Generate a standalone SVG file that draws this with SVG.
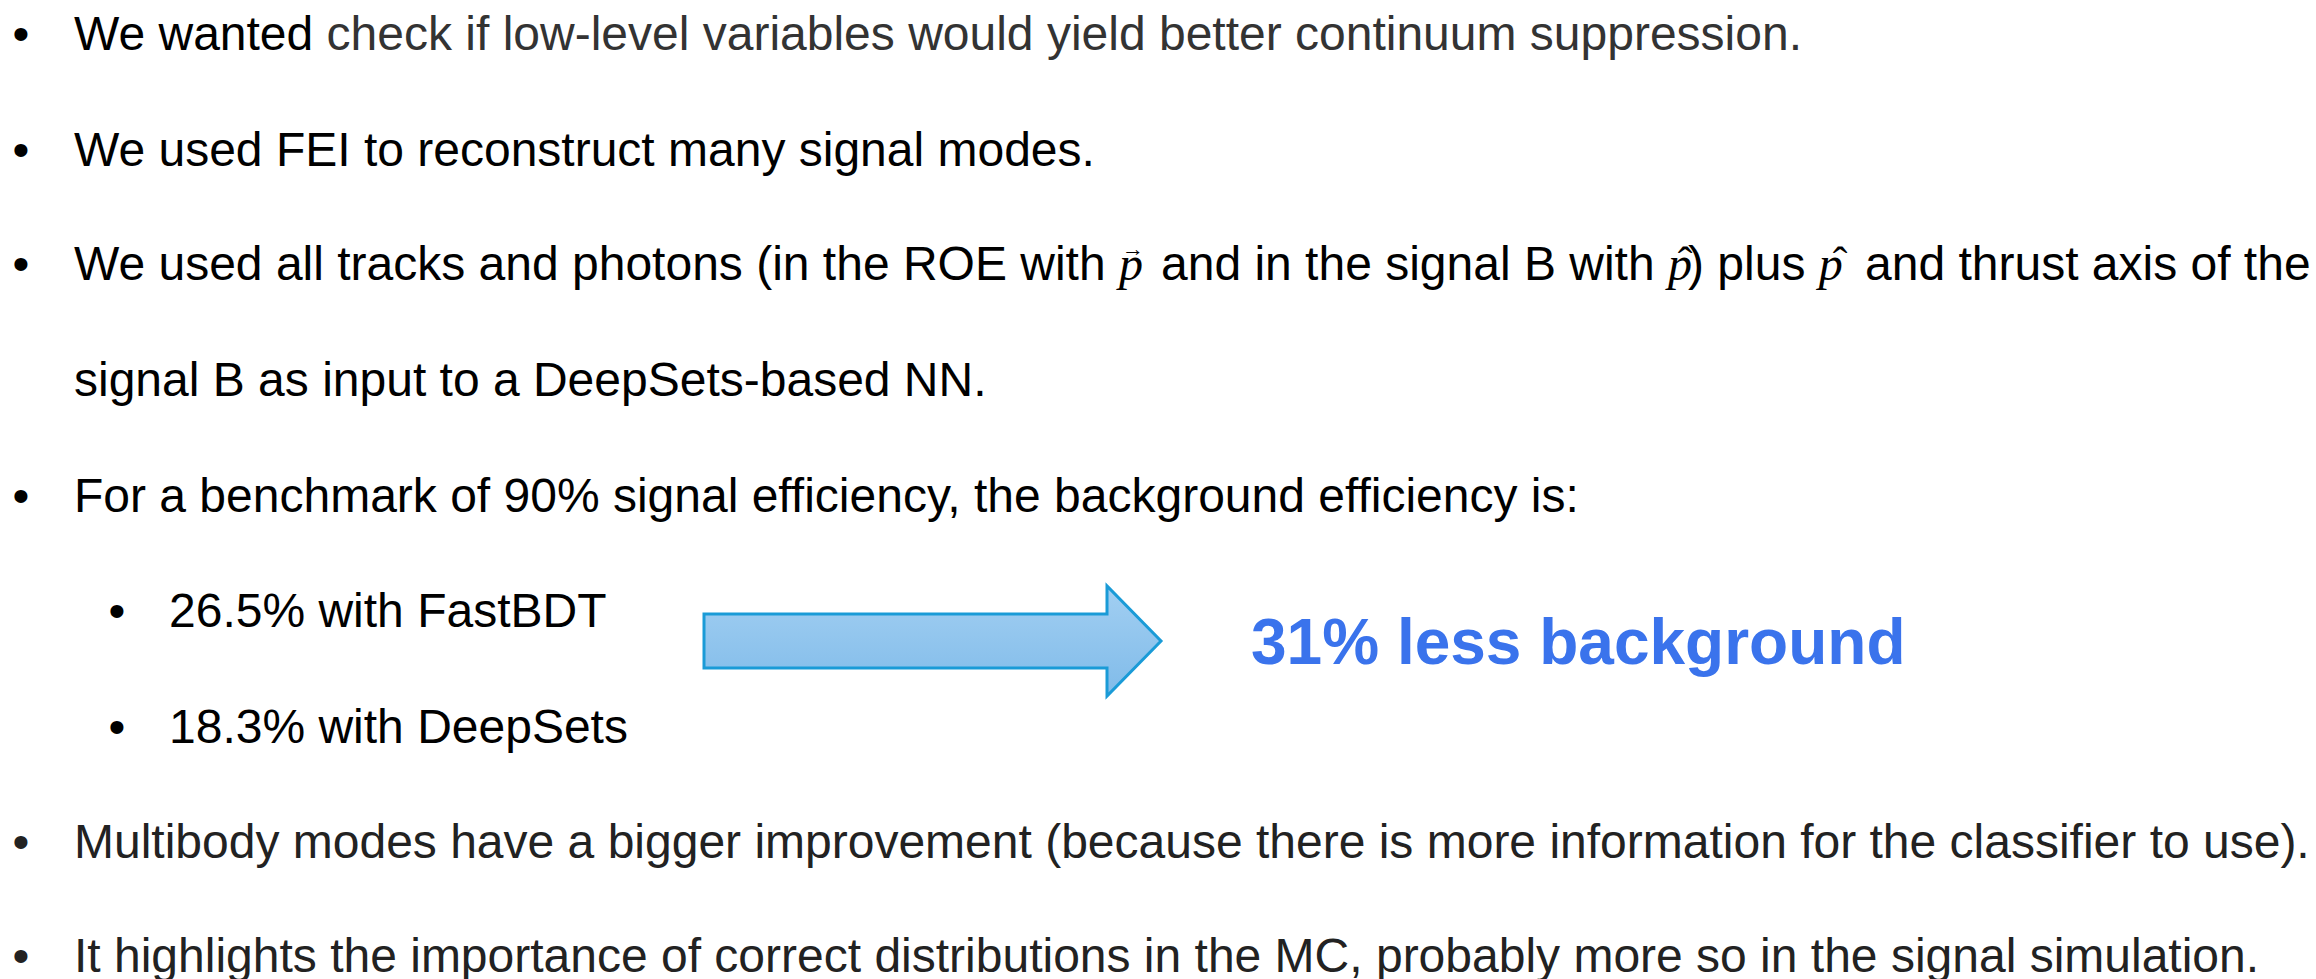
<svg xmlns="http://www.w3.org/2000/svg" width="2316" height="979" viewBox="0 0 2316 979">
  <style>
    .t { font-family: "Liberation Sans", Arial, sans-serif; font-size: 48px; fill: #000; }
    .soft { fill: #333333; }
    .dim { fill: #222222; }
    .m { font-family: "Liberation Serif", "Times New Roman", serif; font-style: italic; font-size: 48px; }
    .acc { font-family: "Liberation Serif", "DejaVu Serif", serif; font-style: normal; }
    .hl { font-family: "Liberation Sans", Arial, sans-serif; font-size: 64px; font-weight: bold; fill: #3A73EC; }
  </style>
  <defs>
    <linearGradient id="arrowFill" x1="0" y1="0" x2="0" y2="1">
      <stop offset="0" stop-color="#A2CFF2"/>
      <stop offset="1" stop-color="#80BBE9"/>
    </linearGradient>
  </defs>
  <rect width="2316" height="979" fill="#fff"/>

  <!-- top-level bullets -->
  <g id="item1">
    <text class="t" x="12.6" y="50">•</text>
    <text class="t" x="74" y="50">We wanted <tspan class="soft">check if low-level variables would yield better continuum suppression.</tspan></text>
  </g>
  <g id="item2">
    <text class="t" x="12.6" y="166">•</text>
    <text class="t" x="74" y="166">We used FEI to reconstruct many signal modes.</text>
  </g>
  <g id="item3">
    <text class="t" x="12.6" y="280">•</text>
    <!-- momentum symbols: italic p with vector arrow / hat accents set in the same line -->
    <text class="t" x="74" y="280">We used all tracks and photons (in the ROE with <tspan class="m">p</tspan><tspan class="acc" x="1122" y="256" font-size="22">→</tspan><tspan x="1161" y="280">and in the signal B with </tspan><tspan class="m">p</tspan><tspan class="acc" x="1677.7" y="277" font-size="44">ˆ</tspan><tspan x="1688" y="280">) plus </tspan><tspan class="m">p</tspan><tspan class="acc" x="1832.7" y="277" font-size="44">ˆ</tspan><tspan x="1865" y="280">and thrust axis of the</tspan></text>
    <text class="t" x="74" y="396">signal B as input to a DeepSets-based NN.</text>
  </g>
  <g id="item4">
    <text class="t" x="12.6" y="512">•</text>
    <text class="t" x="74" y="512">For a benchmark of 90% signal efficiency, the background efficiency is:</text>
  </g>
  <g id="sub1">
    <text class="t" x="108.6" y="627">•</text>
    <text class="t" x="169" y="627">26.5% with FastBDT</text>
  </g>
  <g id="sub2">
    <text class="t" x="108.6" y="743">•</text>
    <text class="t" x="169" y="743">18.3% with DeepSets</text>
  </g>

  <!-- block arrow and result -->
  <g id="connectors">
    <path d="M704,614 H1107 V586 L1161,641 L1107,696 V668 H704 Z" fill="url(#arrowFill)" stroke="#1A9BD7" stroke-width="3" stroke-linejoin="miter"/>
  </g>
  <g id="result">
    <text class="hl" x="1251" y="664">31% less background</text>
  </g>

  <g id="item5">
    <text class="t dim" x="12.6" y="858">•</text>
    <text class="t dim" x="74" y="858">Multibody modes have a bigger improvement (because there is more information for the classifier to use).</text>
  </g>
  <g id="item6">
    <text class="t dim" x="12.6" y="972">•</text>
    <text class="t dim" x="74" y="972">It highlights the importance of correct distributions in the MC, probably more so in the signal simulation.</text>
  </g>
</svg>
